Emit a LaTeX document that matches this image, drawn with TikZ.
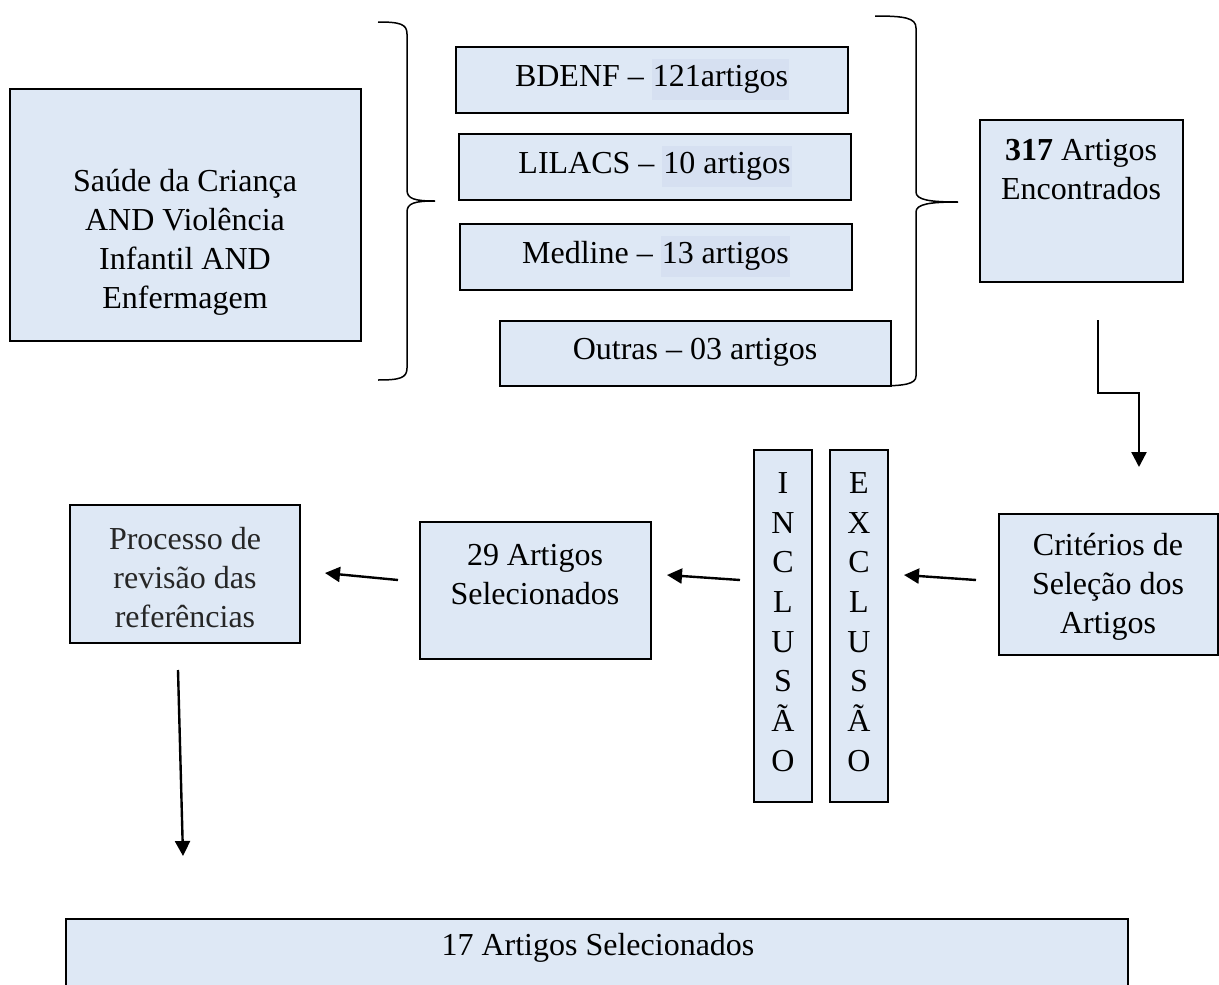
\documentclass[tikz,border=0pt]{standalone}
\usepackage{fontspec}
\setmainfont{Liberation Serif}
\usetikzlibrary{arrows.meta}
\definecolor{boxfill}{HTML}{DEE8F5}
\definecolor{hl}{HTML}{D6E0F1}
\setlength{\fboxsep}{1pt}
\newcommand{\hlt}[1]{{\setlength{\fboxsep}{1pt}\colorbox{hl}{\strut #1}}}
\begin{document}
\begin{tikzpicture}[x=1pt,y=-1pt,
  box/.style={draw=black, line width=2.4pt, fill=boxfill, inner sep=0pt},
  txt/.style={font=\fontsize{32}{39}\selectfont, align=center, inner sep=0pt},
  vtxt/.style={font=\fontsize{32}{39.7}\selectfont, align=center, inner sep=0pt},
  arr/.style={line width=2.4pt, -{Triangle[length=15pt,width=15pt]}},
  brace/.style={line width=1.5pt}]
\clip (0,0) rectangle (1219,985);
\fill[white] (0,0) rectangle (1219,985);

% left query box
\node[box, minimum width=351, minimum height=252] (query) at (185.5,215) {};
\node[txt] (queryt) at (185,242) {Saúde da Criança\\AND Violência\\Infantil AND\\Enfermagem};

% database boxes
\node[box, minimum width=392, minimum height=66] (bdenf) at (652,80) {};
\node[txt] (bdenft) at (652,79) {BDENF – \hlt{121artigos}};
\node[box, minimum width=392, minimum height=66] (lilacs) at (655,167) {};
\node[txt] (lilacst) at (655,166) {LILACS – \hlt{10 artigos}};
\node[box, minimum width=392, minimum height=66] (medline) at (656,257) {};
\node[txt] (medlinet) at (656,256) {Medline – \hlt{13 artigos}};
\node[box, minimum width=391, minimum height=65] (outras) at (695.5,353.5) {};
\node[txt] (outrast) at (695,352) {Outras – 03 artigos};

% braces
\draw[brace] (378,22) .. controls (400,22) and (407,24) .. (407,34) -- (407,190)
  .. controls (407,199) and (415,201) .. (435,201)
  .. controls (415,201) and (407,203) .. (407,212) -- (407,368)
  .. controls (407,378) and (400,380) .. (378,380);
\draw[brace] (875,16) .. controls (905,16) and (916,18) .. (916,28) -- (916,192)
  .. controls (916,200) and (930,202) .. (958,202)
  .. controls (930,202) and (916,204) .. (916,212) -- (916,376)
  .. controls (916,384) and (905,386) .. (876,386);

% found box
\node[box, minimum width=203, minimum height=162] (found) at (1081.5,201) {};
\node[txt] (foundt) at (1081,170) {\textbf{317} Artigos\\Encontrados};

% elbow arrow
\coordinate (e0) at (1098,320);
\coordinate (e1) at (1098,393);
\coordinate (e2) at (1139,393);
\coordinate (e3) at (1139,467);
\draw[arr] (e0) -- (e1) -- (e2) -- (e3);

% criteria box
\node[box, minimum width=219, minimum height=141] (crit) at (1108.5,584.5) {};
\node[txt] (critt) at (1108,587) {Critérios de\\Seleção dos\\Artigos};

% inclusion / exclusion
\node[box, minimum width=58, minimum height=352] (incl) at (783,626) {};
\node[vtxt] (inclt) at (783,622) {I\\N\\C\\L\\U\\S\\Ã\\O};
\node[box, minimum width=58, minimum height=352] (excl) at (859,626) {};
\node[vtxt] (exclt) at (859,622) {E\\X\\C\\L\\U\\S\\Ã\\O};

% selected box
\node[box, minimum width=231, minimum height=137] (sel) at (535.5,590.5) {};
\node[txt] (selt) at (535,575) {29 Artigos\\Selecionados};

% review box
\node[box, minimum width=230, minimum height=138] (rev) at (185,574) {};
\node[txt, text=black!85] (revt) at (185,578) {Processo de\\revisão das\\referências};

% horizontal arrows
\coordinate (h1s) at (976,580);
\coordinate (h1e) at (904,575);
\draw[arr] (h1s) -- (h1e);
\coordinate (h2s) at (740,580);
\coordinate (h2e) at (667,575);
\draw[arr] (h2s) -- (h2e);
\coordinate (h3s) at (398,580);
\coordinate (h3e) at (325,573);
\draw[arr] (h3s) -- (h3e);

% down arrow
\coordinate (d0) at (178,670);
\coordinate (d1) at (183,856);
\draw[arr] (d0) -- (d1);

% final box
\node[box, minimum width=1062, minimum height=120, anchor=north west] (final) at (65,918) {};
\node[txt] (finalt) at (598,948) {17 Artigos Selecionados};
\end{tikzpicture}
\end{document}
